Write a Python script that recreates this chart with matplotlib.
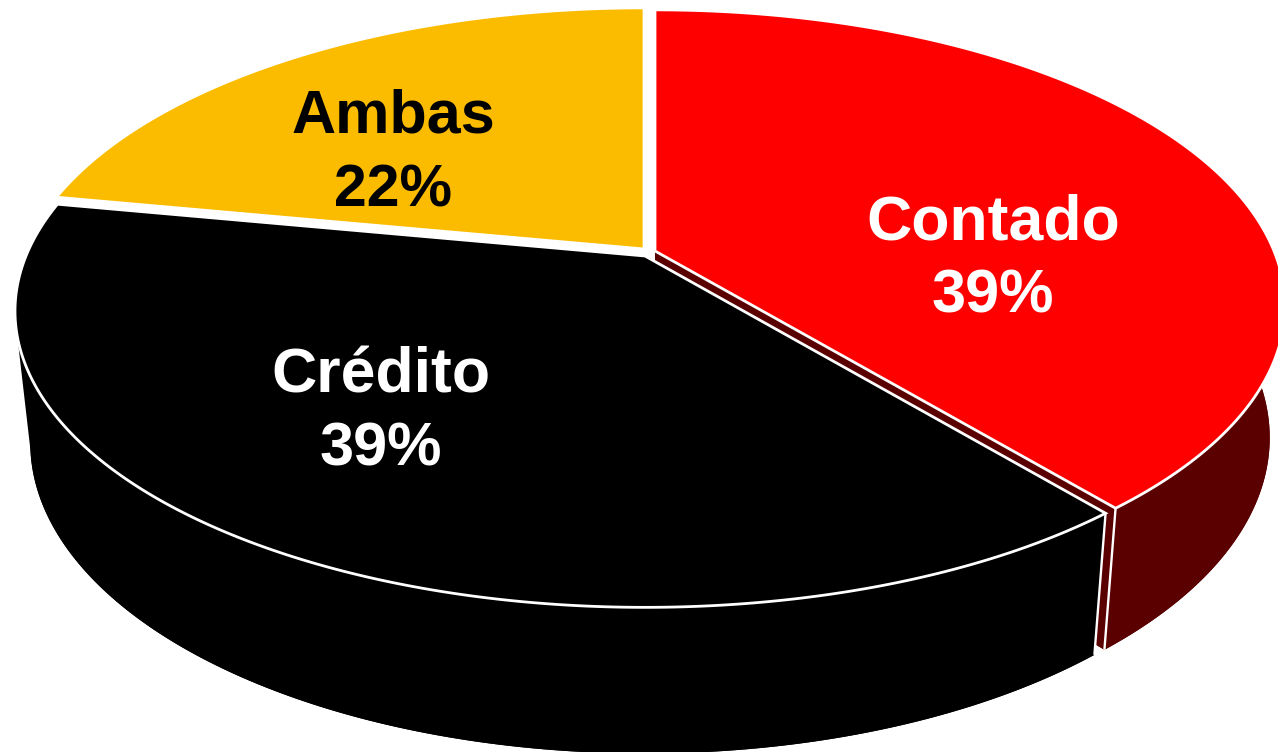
import numpy as np
import matplotlib.pyplot as plt
from matplotlib.patches import Polygon

labels = ['Contado', 'Crédito', 'Ambas']
shares = [39, 39, 22]
top_colors = ['#FF0000', '#000000', '#FBBC00']
side_colors = ['#5A0000', '#000000', '#7D5E00']
text_colors = ['white', 'white', 'black']

# desplazamiento de cada porcion (pixeles)
offsets = [(10, -5), (0, 0), (-1, -7)]
label_pos = [(993, 223), (381, 376), (393, 117)]

# proyeccion en perspectiva del disco
cx = 645
top_cy, top_a, top_b = 256, 619, 286
low_cy, low_a, low_b = 385, 604, 300
k = 0.186


def project(t, cy, a, b, off=(0, 0)):
    X = np.sin(t)
    Y = -np.cos(t)
    d = 1 - k * Y
    return np.column_stack((cx + off[0] + a * X / d, cy + off[1] + b * Y / d))


def add_poly(ax, pts, color, edge='white', lw=2.0, z=1):
    ax.add_patch(Polygon(pts, closed=True, facecolor=color, edgecolor=edge,
                         linewidth=lw, joinstyle='miter', zorder=z))


fig = plt.figure(figsize=(12.78, 7.52), dpi=100)
ax = fig.add_axes([0, 0, 1, 1])
ax.set_xlim(0, 1278)
ax.set_ylim(752, 0)
ax.axis('off')

edges = np.radians(np.cumsum([0] + shares) * 3.6)

# 1. Paredes: primero roja, despues negra encima
for i in [0, 1]:
    off = offsets[i]
    a0, a1 = edges[i], edges[i + 1]
    t = np.linspace(a0, a1, 200)
    low = project(t, low_cy, low_a, low_b, off)
    low_c = np.array([[cx + off[0], low_cy + off[1]]])
    add_poly(ax, np.vstack((low_c, low)), side_colors[i], edge='none', lw=0, z=1 + i)

    # parte frontal de la pared
    if i == 0:
        tf = np.linspace(np.radians(70), a1, 120)
    else:
        tf = np.linspace(a0, np.radians(258), 120)
    up = project(tf, top_cy, top_a, top_b, off)
    dn = project(tf, low_cy, low_a, low_b, off)
    add_poly(ax, np.vstack((up, dn[::-1])), side_colors[i], edge='none', lw=0, z=1 + i)

    # cara del corte de la porcion roja, y canto vertical
    tip = np.array([a1 if i == 0 else a0])
    tip_up = project(tip, top_cy, top_a, top_b, off)
    tip_dn = project(tip, low_cy, low_a, low_b, off)
    if i == 0:
        apex_up = np.array([[cx + off[0], top_cy + off[1]]])
        apex_dn = np.array([[cx + off[0], low_cy + off[1]]])
        add_poly(ax, np.vstack((apex_up, tip_up, tip_dn, apex_dn)), side_colors[i],
                 edge='none', lw=0, z=1.5)
    ax.plot([tip_up[0, 0], tip_dn[0, 0]], [tip_up[0, 1], tip_dn[0, 1]],
            color='white', lw=1.7, zorder=2.5, solid_capstyle='butt')

# 2. Caras superiores
for i in range(3):
    off = offsets[i]
    t = np.linspace(edges[i], edges[i + 1], 300)
    rim = project(t, top_cy, top_a, top_b, off)
    apex = np.array([[cx + off[0], top_cy + off[1]]])
    add_poly(ax, np.vstack((apex, rim)), top_colors[i], z=5)

# 3. Etiquetas
name_sizes = [45, 45, 44]
pct_sizes = [44, 44, 42.5]
for i in range(3):
    x, y = label_pos[i]
    ax.text(x, y, labels[i], color=text_colors[i], fontsize=name_sizes[i],
            fontweight='bold', family='Liberation Sans', ha='center', va='center', zorder=6)
    ax.text(x, y + 74, f'{shares[i]}%', color=text_colors[i], fontsize=pct_sizes[i],
            fontweight='bold', family='Liberation Sans', ha='center', va='center', zorder=6)

fig.savefig('out.png', dpi=100, facecolor='white')
